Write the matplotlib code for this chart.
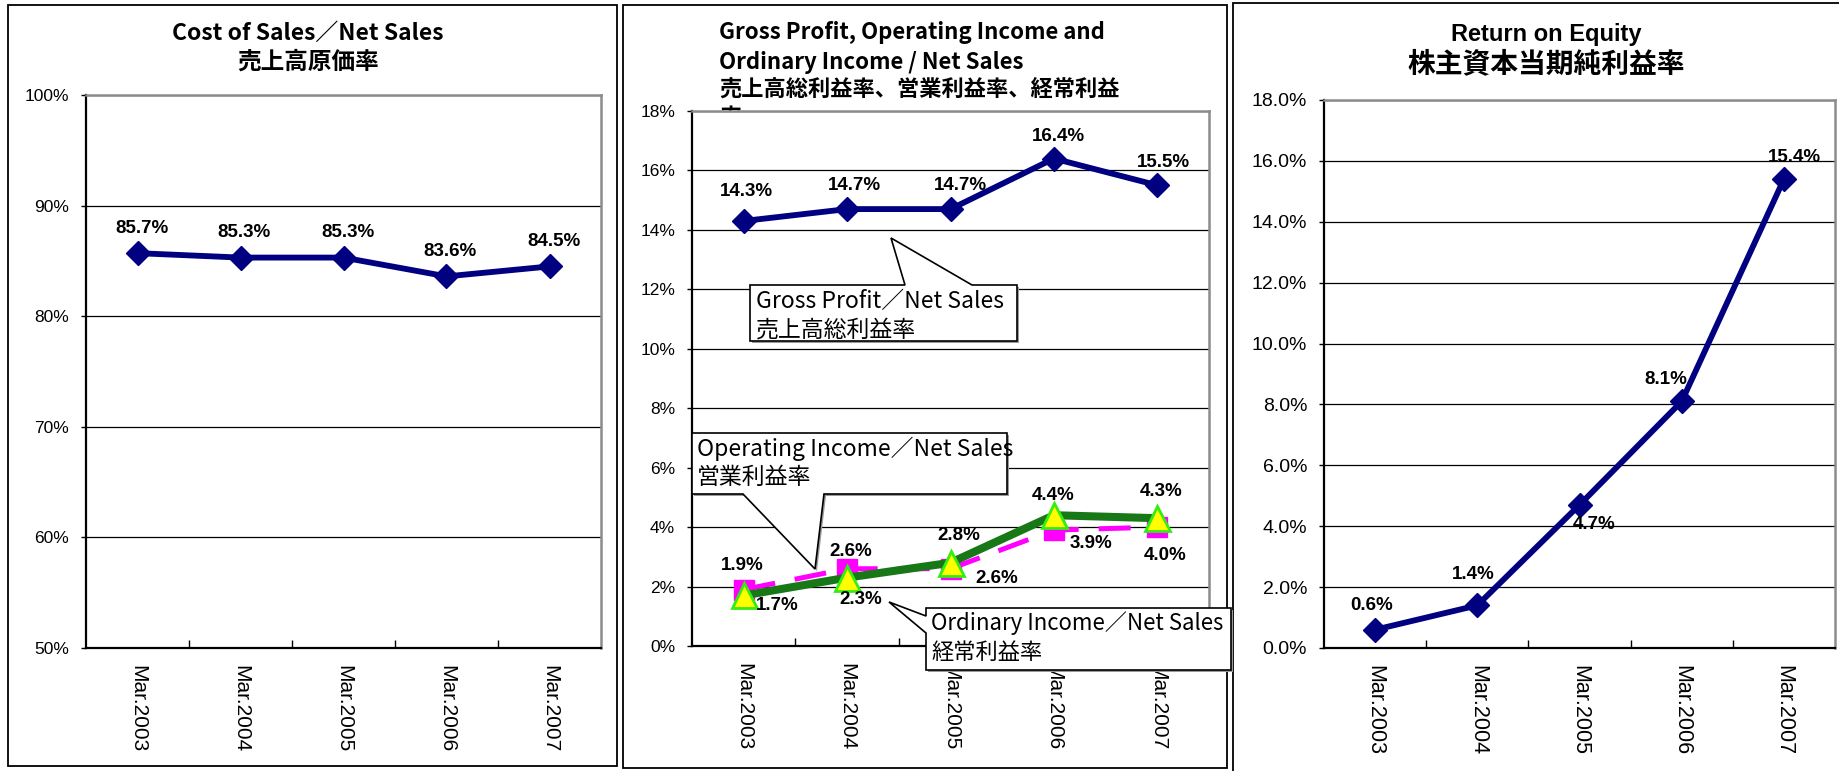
import matplotlib
matplotlib.use('Agg')
import matplotlib.pyplot as plt
from matplotlib.patches import Polygon, Rectangle
from matplotlib import font_manager as fm

# ---------------- data ----------------
years = ['Mar.2003', 'Mar.2004', 'Mar.2005', 'Mar.2006', 'Mar.2007']
cost_ratio = [85.7, 85.3, 85.3, 83.6, 84.5]
gross_margin = [14.3, 14.7, 14.7, 16.4, 15.5]
operating_margin = [1.9, 2.6, 2.6, 3.9, 4.0]
ordinary_margin = [1.7, 2.3, 2.8, 4.4, 4.3]
roe = [0.6, 1.4, 4.7, 8.1, 15.4]

ticks_cost = [50, 60, 70, 80, 90, 100]
ticks_margin = [0, 2, 4, 6, 8, 10, 12, 14, 16, 18]
ticks_roe = [0, 2, 4, 6, 8, 10, 12, 14, 16, 18]

# ---------------- fonts ----------------
names = {f.name for f in fm.fontManager.ttflist}
NARROW = 'Liberation Sans Narrow' if 'Liberation Sans Narrow' in names else 'Liberation Sans'
HAS_NARROW = NARROW == 'Liberation Sans Narrow'
CJK = ['Noto Sans CJK JP', 'DejaVu Sans']
ARIAL = 'Liberation Sans'

W, H = 1839, 771
fig = plt.figure(figsize=(W / 100, H / 100), dpi=100)
fig.patch.set_facecolor('white')


def fxy(x, y):
    return (x / W, 1 - y / H)


def add_axes_px(l, t, r, b):
    return fig.add_axes([l / W, 1 - b / H, (r - l) / W, (b - t) / H])


def panel_border(l, t, r, b):
    fig.add_artist(Rectangle(fxy(l, b), (r - l) / W, (b - t) / H, fill=False,
                             ec='black', lw=1.3, transform=fig.transFigure, zorder=1))


def style_axes(ax, yticks, fmt, ylab_font, ylab_size, xlab_font, xlab_size):
    ax.set_xlim(-0.5, 4.5)
    ax.set_ylim(yticks[0], yticks[-1])
    ax.set_yticks(yticks)
    ax.set_yticklabels([fmt.format(v) for v in yticks], fontfamily=ylab_font, fontsize=ylab_size)
    ax.yaxis.grid(True, color='black', lw=0.9)
    ax.set_axisbelow(True)
    for s in ('top', 'right'):
        ax.spines[s].set_color('#8c8c8c')
        ax.spines[s].set_linewidth(1.8)
    for s in ('left', 'bottom'):
        ax.spines[s].set_color('black')
        ax.spines[s].set_linewidth(1.6)
    ax.set_xticks(range(len(years)))
    ax.set_xticklabels(years, rotation=270, fontfamily=xlab_font, fontsize=xlab_size,
                       ha='center', va='top')
    ax.set_xticks([0.5, 1.5, 2.5, 3.5], minor=True)
    ax.tick_params(axis='x', which='major', length=0, pad=12)
    ax.tick_params(axis='x', which='minor', direction='in', length=6, width=1)
    ax.tick_params(axis='y', which='major', direction='out', length=3.6, width=1, pad=8.5)


def labels(ax, vals, offsets, font, size, weight='bold'):
    for i, (v, (dx, dy)) in enumerate(zip(vals, offsets)):
        ax.annotate(f'{v:.1f}%', (i, v), xytext=(dx, -dy), textcoords='offset pixels',
                    ha='center', va='center', fontfamily=font, fontsize=size,
                    fontweight=weight, zorder=8, annotation_clip=False)


def callout(points, lines, left, ys, size=16.5):
    pts = [fxy(x, y) for x, y in points]
    shadow = [fxy(x + 2, y + 2) for x, y in points]
    fig.add_artist(Polygon(shadow, closed=True, fc='#9a9a9a', ec='none',
                           transform=fig.transFigure, zorder=9))
    fig.add_artist(Polygon(pts, closed=True, fc='white', ec='black', lw=1.2,
                           transform=fig.transFigure, zorder=10))
    for s, y in zip(lines, ys):
        fig.text(*fxy(left, y), s, ha='left', va='center', fontfamily=CJK,
                 fontsize=size, zorder=11)


xlab_size = 18 if HAS_NARROW else 15
ylab_size = 15.5 if HAS_NARROW else 12.5
dl_size = 16 if HAS_NARROW else 13.5

NAVY = '#000080'
LW_NAVY = 4.2
MS_DIAMOND = 12

# ---------------- panel borders ----------------
panel_border(8, 5, 617, 766)
panel_border(623, 5, 1227, 768)
panel_border(1233, 3, 1860, 790)

# ---------------- panel 1 ----------------
ax1 = add_axes_px(86, 95, 601, 648)
style_axes(ax1, ticks_cost, '{:.0f}%', NARROW, ylab_size, NARROW, xlab_size)
ax1.plot(range(5), cost_ratio, color=NAVY, lw=LW_NAVY, marker='D', ms=MS_DIAMOND, zorder=4)
labels(ax1, cost_ratio, [(4, -25)] * 5, NARROW, dl_size)
fig.text(*fxy(308, 33), 'Cost of Sales／Net Sales', ha='center', va='center',
         fontfamily=CJK, fontsize=16.5, fontweight='bold')
fig.text(*fxy(308, 62), '売上高原価率', ha='center', va='center',
         fontfamily=CJK, fontsize=17, fontweight='bold')

# ---------------- panel 2 ----------------
t2 = ['Gross Profit, Operating Income and', 'Ordinary Income / Net Sales',
      '売上高総利益率、営業利益率、経常利益', '率']
for s, y in zip(t2, [33, 62, 89, 117]):
    fig.text(*fxy(719, y), s, ha='left', va='center', fontfamily=CJK,
             fontsize=16, fontweight='bold', zorder=-1)

ax2 = add_axes_px(692, 111, 1209, 646)
style_axes(ax2, ticks_margin, '{:.0f}%', NARROW, ylab_size, NARROW, xlab_size)
ax2.plot(range(5), gross_margin, color=NAVY, lw=LW_NAVY, marker='D', ms=MS_DIAMOND, zorder=4)
ax2.plot(range(5), operating_margin, color='#FF00FF', lw=3.6, dashes=(6.4, 4.0),
         marker='s', ms=15, mfc='#FF00FF', mec='#FF00FF', zorder=4)
ax2.plot(range(5), ordinary_margin, color='#187818', lw=5.8, marker='^', ms=18,
         mfc='#FFFF00', mec='#33EE11', mew=2, zorder=5)
labels(ax2, gross_margin, [(3, -29), (7, -24), (10, -24), (5, -22), (6, -23)], NARROW, dl_size)
labels(ax2, operating_margin, [(-1, -24), (4, -17), (46, 10), (37, 13), (8, 28)], NARROW, dl_size)
labels(ax2, ordinary_margin, [(34, 10), (14, 22), (8, -27), (-1, -20), (4, -27)], NARROW, dl_size)

callout([(750, 285), (905, 285), (891, 238), (972, 285), (1017, 285), (1017, 341), (750, 341)],
        ['Gross Profit／Net Sales', '売上高総利益率'], 756, [302, 330])
callout([(692, 433), (1007, 433), (1007, 494), (824, 494), (815, 569), (743, 494), (692, 494)],
        ['Operating Income／Net Sales', '営業利益率'], 697, [449, 477])
callout([(926, 608), (1231, 608), (1231, 670), (926, 670), (926, 633), (889, 602), (926, 616)],
        ['Ordinary Income／Net Sales', '経常利益率'], 931, [623, 652], size=16)

# ---------------- panel 3 ----------------
ax3 = add_axes_px(1324, 100, 1835, 648)
style_axes(ax3, ticks_roe, '{:.1f}%', ARIAL, 14, ARIAL, 15.5)
ax3.plot(range(5), roe, color=NAVY, lw=LW_NAVY, marker='D', ms=MS_DIAMOND, zorder=4)
labels(ax3, roe, [(-3, -24), (-4, -31), (15, 20), (-16, -22), (11, -22)], NARROW, dl_size)
fig.text(*fxy(1546, 35), 'Return on Equity', ha='center', va='center',
         fontfamily=ARIAL, fontsize=17, fontweight='bold')
fig.text(*fxy(1546, 64), '株主資本当期純利益率', ha='center', va='center',
         fontfamily=CJK, fontsize=20, fontweight='bold')

fig.savefig('out.png', dpi=100)
